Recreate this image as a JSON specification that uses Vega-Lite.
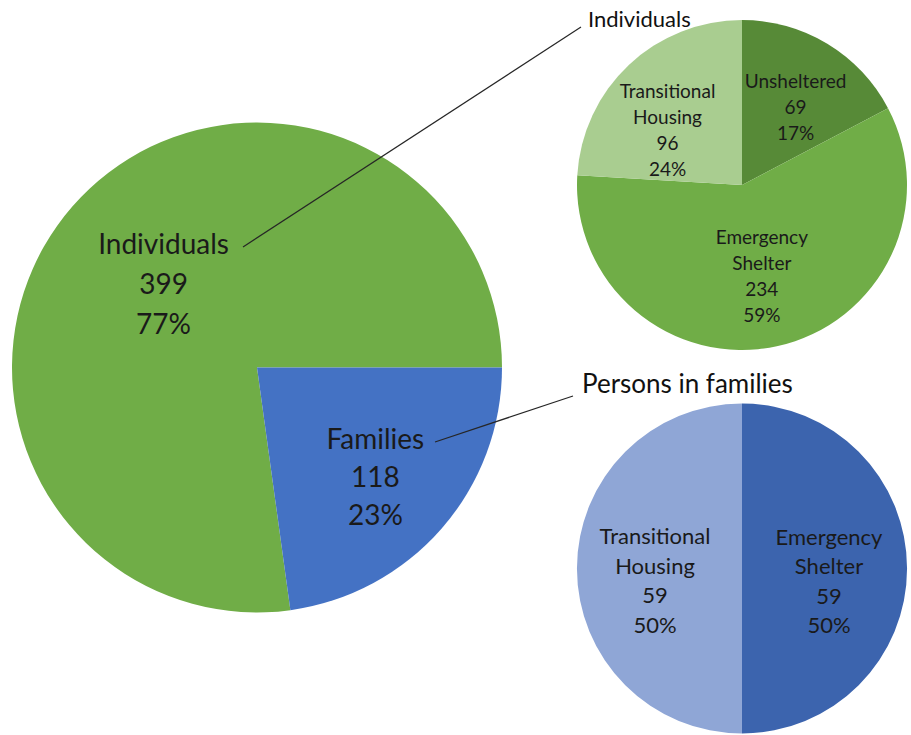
{
  "$schema": "https://vega.github.io/schema/vega-lite/v6.json",
  "padding": 0,
  "background": "white",
  "bounds": "flush",
  "spacing": 59,
  "config": {"view": {"stroke": null}, "text": {"font": "Lato"}},
  "resolve": {"scale": {"color": "independent", "theta": "independent"}},
  "hconcat": [
    {
      "width": 514,
      "height": 735,
      "layer": [
        {
          "data": {"values": [{"name": "Individuals", "value": 399}, {"name": "Families", "value": 118}]},
          "transform": [
            {"calculate": "indexof(['Families','Individuals'], datum.name)", "as": "rank"},
            {"joinaggregate": [{"op": "sum", "field": "value", "as": "total"}]},
            {"stack": "value", "groupby": [], "sort": [{"field": "rank", "order": "ascending"}], "as": ["v0", "v1"]},
            {"calculate": "(datum.v0 + datum.v1) / 2", "as": "mid"},
            {"calculate": "replace(datum.name, ' ', '\\n') + '\\n' + datum.value + '\\n' + format(datum.value / datum.total, '.0%')", "as": "label"}
          ],
          "layer": [
            {
              "mark": {"type": "arc", "radius": 245},
              "encoding": {
                "theta": {"field": "v0", "type": "quantitative", "stack": null, "scale": {"domain": [0, 517], "range": [1.5708, 7.854], "zero": true, "nice": false}},
                "theta2": {"field": "v1"},
                "color": {"field": "name", "type": "nominal", "scale": {"domain": ["Individuals", "Families"], "range": ["#70AD47", "#4472C4"]}, "legend": null}
              }
            },
            {
              "transform": [{"filter": "datum.name === 'Individuals'"}],
              "mark": {"type": "text", "fontSize": 28, "lineHeight": 40, "lineBreak": "\n", "color": "#1a1a1a", "align": "center", "baseline": "middle", "dy": -40},
              "encoding": {
                "theta": {"field": "mid", "type": "quantitative", "stack": null},
                "radius": {"value": 124},
                "text": {"field": "label"}
              }
            },
            {
              "transform": [{"filter": "datum.name === 'Families'"}],
              "mark": {"type": "text", "fontSize": 28, "lineHeight": 38, "lineBreak": "\n", "color": "#1a1a1a", "align": "center", "baseline": "middle", "dx": -3, "dy": -32},
              "encoding": {
                "theta": {"field": "mid", "type": "quantitative", "stack": null},
                "radius": {"value": 161},
                "text": {"field": "label"}
              }
            }
          ]
        },
        {
          "data": {"values": [{"link": "Individuals"}]},
          "mark": {"type": "rule", "color": "#262626", "strokeWidth": 1.2},
          "encoding": {"x": {"value": 243}, "y": {"value": 247}, "x2": {"value": 581}, "y2": {"value": 27}}
        },
        {
          "data": {"values": [{"link": "Persons in families"}]},
          "mark": {"type": "rule", "color": "#262626", "strokeWidth": 1.2},
          "encoding": {"x": {"value": 435}, "y": {"value": 442}, "x2": {"value": 573}, "y2": {"value": 396}}
        }
      ]
    },
    {
      "bounds": "flush",
      "spacing": 32,
      "resolve": {"scale": {"color": "independent", "theta": "independent"}},
      "vconcat": [
        {
          "width": 338,
          "height": 370,
          "layer": [
            {
              "data": {"values": [{"name": "Unsheltered", "value": 69}, {"name": "Emergency Shelter", "value": 234}, {"name": "Transitional Housing", "value": 96}]},
              "transform": [
                {"calculate": "indexof(['Unsheltered','Emergency Shelter','Transitional Housing'], datum.name)", "as": "rank"},
                {"joinaggregate": [{"op": "sum", "field": "value", "as": "total"}]},
                {"stack": "value", "groupby": [], "sort": [{"field": "rank", "order": "ascending"}], "as": ["v0", "v1"]},
                {"calculate": "(datum.v0 + datum.v1) / 2", "as": "mid"},
                {"calculate": "replace(datum.name, ' ', '\\n') + '\\n' + datum.value + '\\n' + format(datum.value / datum.total, '.0%')", "as": "label"}
              ],
              "layer": [
                {
                  "mark": {"type": "arc", "radius": 165},
                  "encoding": {
                    "theta": {"field": "v0", "type": "quantitative", "stack": null, "scale": {"domain": [0, 399], "range": [0, 6.2832], "zero": true, "nice": false}},
                    "theta2": {"field": "v1"},
                    "color": {"field": "name", "type": "nominal", "scale": {"domain": ["Unsheltered", "Emergency Shelter", "Transitional Housing"], "range": ["#578A37", "#70AD47", "#A9CD90"]}, "legend": null}
                  }
                },
                {
                  "transform": [{"filter": "datum.name === 'Unsheltered'"}],
                  "mark": {"type": "text", "fontSize": 19, "lineHeight": 26, "lineBreak": "\n", "color": "#1a1a1a", "align": "center", "baseline": "middle", "dx": 5, "dy": -23},
                  "encoding": {
                    "theta": {"field": "mid", "type": "quantitative", "stack": null},
                    "radius": {"value": 94},
                    "text": {"field": "label"}
                  }
                },
                {
                  "transform": [{"filter": "datum.name === 'Emergency Shelter'"}],
                  "mark": {"type": "text", "fontSize": 19, "lineHeight": 26, "lineBreak": "\n", "color": "#1a1a1a", "align": "center", "baseline": "middle", "dy": -39},
                  "encoding": {
                    "theta": {"field": "mid", "type": "quantitative", "stack": null},
                    "radius": {"value": 94},
                    "text": {"field": "label"}
                  }
                },
                {
                  "transform": [{"filter": "datum.name === 'Transitional Housing'"}],
                  "mark": {"type": "text", "fontSize": 19, "lineHeight": 26, "lineBreak": "\n", "color": "#1a1a1a", "align": "center", "baseline": "middle", "dx": -10, "dy": -25},
                  "encoding": {
                    "theta": {"field": "mid", "type": "quantitative", "stack": null},
                    "radius": {"value": 94},
                    "text": {"field": "label"}
                  }
                }
              ]
            },
            {
              "data": {"values": [{"title": "Individuals"}]},
              "mark": {"type": "text", "x": 15, "y": 27, "align": "left", "baseline": "alphabetic", "fontSize": 22, "color": "#111111"},
              "encoding": {"text": {"field": "title"}}
            }
          ]
        },
        {
          "width": 338,
          "height": 333,
          "layer": [
            {
              "data": {"values": [{"name": "Emergency Shelter", "value": 59}, {"name": "Transitional Housing", "value": 59}]},
              "transform": [
                {"calculate": "indexof(['Emergency Shelter','Transitional Housing'], datum.name)", "as": "rank"},
                {"joinaggregate": [{"op": "sum", "field": "value", "as": "total"}]},
                {"stack": "value", "groupby": [], "sort": [{"field": "rank", "order": "ascending"}], "as": ["v0", "v1"]},
                {"calculate": "(datum.v0 + datum.v1) / 2", "as": "mid"},
                {"calculate": "replace(datum.name, ' ', '\\n') + '\\n' + datum.value + '\\n' + format(datum.value / datum.total, '.0%')", "as": "label"}
              ],
              "layer": [
                {
                  "mark": {"type": "arc", "radius": 165},
                  "encoding": {
                    "theta": {"field": "v0", "type": "quantitative", "stack": null, "scale": {"domain": [0, 118], "range": [0, 6.2832], "zero": true, "nice": false}},
                    "theta2": {"field": "v1"},
                    "color": {"field": "name", "type": "nominal", "scale": {"domain": ["Emergency Shelter", "Transitional Housing"], "range": ["#3C64AE", "#8FA6D6"]}, "legend": null}
                  }
                },
                {
                  "mark": {"type": "text", "fontSize": 22, "lineHeight": 29.5, "lineBreak": "\n", "color": "#1a1a1a", "align": "center", "baseline": "middle", "dy": -31},
                  "encoding": {
                    "theta": {"field": "mid", "type": "quantitative", "stack": null},
                    "radius": {"value": 87},
                    "text": {"field": "label"}
                  }
                }
              ]
            },
            {
              "data": {"values": [{"title": "Persons in families"}]},
              "mark": {"type": "text", "x": 9, "y": -9, "align": "left", "baseline": "alphabetic", "fontSize": 26, "color": "#111111"},
              "encoding": {"text": {"field": "title"}}
            }
          ]
        }
      ]
    }
  ]
}
